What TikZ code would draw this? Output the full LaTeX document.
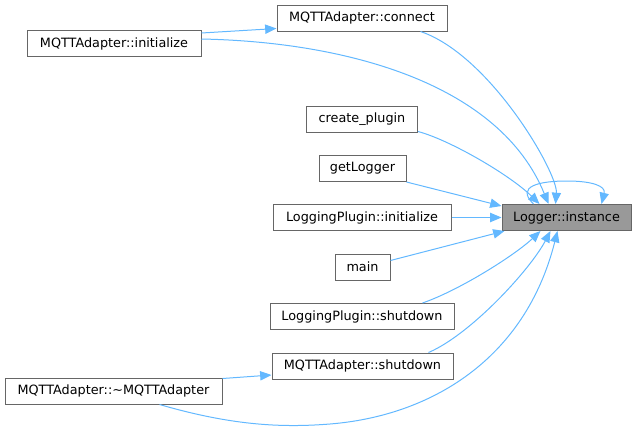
\documentclass[tikz,border=0pt]{standalone}
\usepackage{fontspec}
\setmainfont{DejaVu Sans}
\usetikzlibrary{calc,arrows.meta}
\definecolor{edgeblue}{HTML}{63B8FF}
\definecolor{boxgrey}{HTML}{666666}
\definecolor{hlgrey}{HTML}{999999}
\begin{document}
\begin{tikzpicture}[x=0.75pt,y=-0.75pt,
  fn/.style={draw=boxgrey,fill=white,line width=0.75pt,inner sep=0pt,
    minimum height=19.5pt,minimum width=#1*0.75pt,font=\fontsize{9.6pt}{11pt}\selectfont},
  hl/.style={fill=hlgrey},
  call/.style={draw=edgeblue,line width=0.75pt,-{Triangle[length=8.5pt,width=7pt]}}]
\useasboundingbox (0,0) rectangle (637,429);
\node[fn=170] (connect) at (362,18) {MQTTAdapter::connect};
\node[fn=174] (init) at (114,43.5) {MQTTAdapter::initialize};
\node[fn=111] (create) at (362,119) {create\_plugin};
\node[fn=87] (getlog) at (362.5,168.5) {getLogger};
\node[fn=178] (lpinit) at (362,217.5) {LoggingPlugin::initialize};
\node[fn=129,hl] (inst) at (566.5,217.5) {Logger::instance};
\node[fn=55] (main) at (362.5,267) {main};
\node[fn=184] (lpshut) at (362,316.5) {LoggingPlugin::shutdown};
\node[fn=181] (mqshut) at (362.5,366) {MQTTAdapter::shutdown};
\node[fn=217] (dtor) at (113.5,391) {MQTTAdapter::\textasciitilde MQTTAdapter};

\draw[call] ($(init.north east)+(0,3)$) -- ($(connect.south west)+(0,-3)$);
\draw[call] ($(init.north east)+(0,9)$) .. controls (350,42) and (500,85) .. ($(inst.north west)+(47,0)$);
\draw[call] ($(connect.south east)+(-27,0)$) .. controls (490,55) and (558,173) .. ($(inst.north west)+(54,0)$);
\draw[call] ($(create.south east)+(0,-1)$) .. controls (450,140) and (510,175) .. ($(inst.north west)+(38,0)$);
\draw[call] (getlog.south east) -- ($(inst.north west)+(0,2)$);
\draw[call] (lpinit.east) -- (inst.west);
\draw[call] ($(main.north east)+(0,7)$) -- ($(inst.south west)+(3,0)$);
\draw[call] ($(lpshut.north east)+(-32,0)$) .. controls (460,290) and (515,255) .. ($(inst.south west)+(39,0)$);
\draw[call] ($(mqshut.north east)+(-25,0)$) .. controls (470,335) and (530,270) .. ($(inst.south west)+(49,0)$);
\draw[call] ($(dtor.north east)+(0,1)$) -- ($(mqshut.west)+(0,9)$);
\draw[call] ($(dtor.south west)+(155,0)$) .. controls (230,425) and (280,428) .. (330,424)
  .. controls (430,416) and (525,360) .. ($(inst.south west)+(56,0)$);
\draw[call] ($(inst.north west)+(32,0)$) .. controls (515,186) and (540,181) .. (567,181)
  .. controls (592,181) and (606,186) .. ($(inst.north west)+(100,0)$);
\end{tikzpicture}
\end{document}
